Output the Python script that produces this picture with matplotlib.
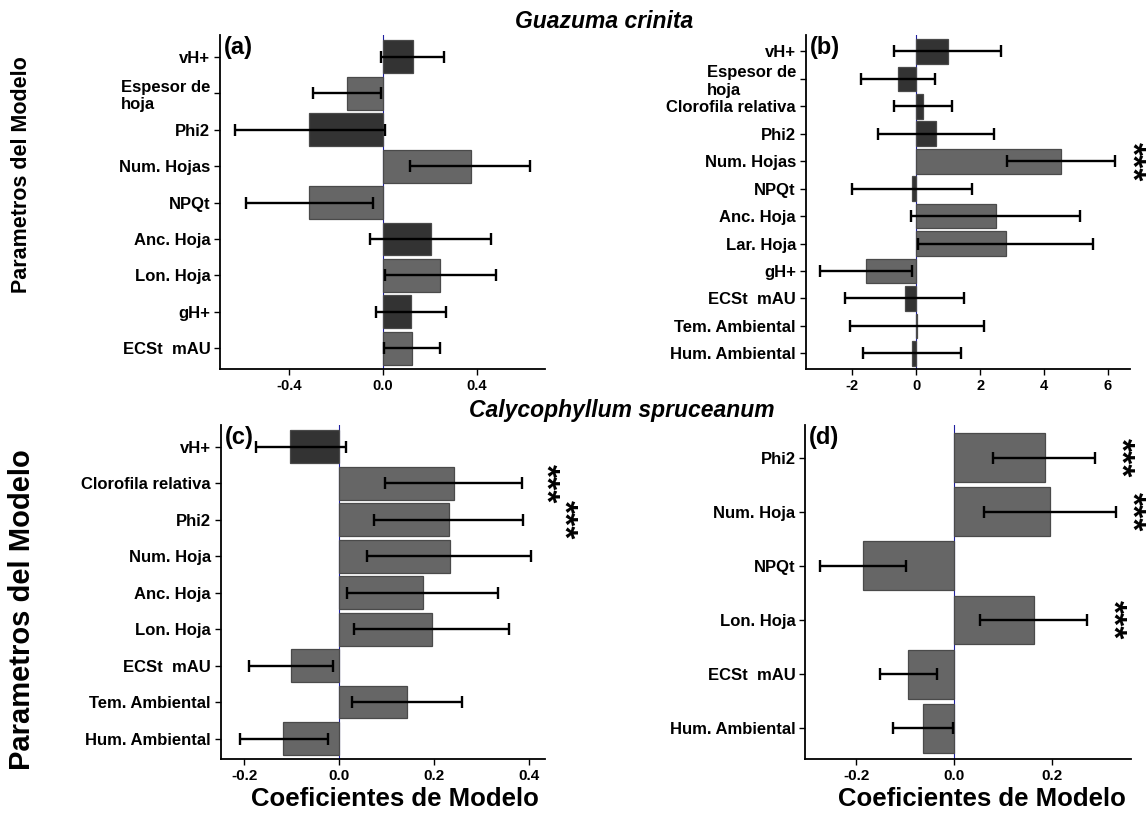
import matplotlib
matplotlib.use("Agg")
import matplotlib.pyplot as plt
from matplotlib.ticker import FormatStrFormatter

plt.rcParams["font.family"] = ["Liberation Sans", "DejaVu Sans"]
plt.rcParams["axes.unicode_minus"] = False

# (a) Guazuma crinita - modelo 1
labels_a = ["vH+", "Espesor de\nhoja", "Phi2", "Num. Hojas", "NPQt",
            "Anc. Hoja", "Lon. Hoja", "gH+", "ECSt  mAU"]
coef_a = [0.126, -0.155, -0.315, 0.373, -0.316, 0.203, 0.243, 0.119, 0.123]
lo_a = [-0.008, -0.30, -0.63, 0.115, -0.584, -0.055, 0.01, -0.03, 0.004]
hi_a = [0.26, -0.01, 0.01, 0.628, -0.044, 0.458, 0.48, 0.267, 0.243]
grp_a = [1, 0, 1, 0, 0, 1, 0, 1, 0]
sig_a = []

# (b) Guazuma crinita - modelo 2
labels_b = ["vH+", "Espesor de\nhoja", "Clorofila relativa", "Phi2", "Num. Hojas",
            "NPQt", "Anc. Hoja", "Lar. Hoja", "gH+", "ECSt  mAU",
            "Tem. Ambiental", "Hum. Ambiental"]
coef_b = [0.99, -0.58, 0.20, 0.62, 4.53, -0.14, 2.49, 2.80, -1.58, -0.35, 0.02, -0.12]
lo_b = [-0.70, -1.72, -0.70, -1.19, 2.84, -2.02, -0.15, 0.06, -3.0, -2.22, -2.08, -1.66]
hi_b = [2.66, 0.58, 1.11, 2.45, 6.22, 1.75, 5.11, 5.54, -0.14, 1.49, 2.12, 1.40]
grp_b = [1, 1, 1, 1, 0, 1, 0, 0, 0, 1, 0, 1]
sig_b = ["Num. Hojas"]

# (c) Calycophyllum spruceanum - modelo 1
labels_c = ["vH+", "Clorofila relativa", "Phi2", "Num. Hoja", "Anc. Hoja",
            "Lon. Hoja", "ECSt  mAU", "Tem. Ambiental", "Hum. Ambiental"]
coef_c = [-0.104, 0.242, 0.230, 0.232, 0.176, 0.195, -0.101, 0.142, -0.118]
lo_c = [-0.175, 0.096, 0.073, 0.059, 0.017, 0.031, -0.19, 0.027, -0.209]
hi_c = [0.014, 0.384, 0.386, 0.403, 0.335, 0.358, -0.013, 0.258, -0.023]
grp_c = [1, 0, 0, 0, 0, 0, 0, 0, 0]
sig_c = ["Clorofila relativa", "Phi2"]

# (d) Calycophyllum spruceanum - modelo 2
labels_d = ["Phi2", "Num. Hoja", "NPQt", "Lon. Hoja", "ECSt  mAU", "Hum. Ambiental"]
coef_d = [0.185, 0.196, -0.187, 0.163, -0.095, -0.064]
lo_d = [0.079, 0.061, -0.275, 0.053, -0.152, -0.125]
hi_d = [0.288, 0.33, -0.098, 0.27, -0.036, -0.003]
grp_d = [0, 0, 0, 0, 0, 0]
sig_d = ["Phi2", "Num. Hoja", "Lon. Hoja"]

W, H = 1148, 814


def px_box(left, top, right, bottom):
    return [left / W, 1 - bottom / H, (right - left) / W, (bottom - top) / H]


def panel(ax, labels, coef, lo, hi, grp, sig, xlim, ticks, fmt, tag,
          tick_fs, star_shift):
    n = len(labels)
    y = [n - 1 - i for i in range(n)]
    colors = ["#333333" if g else "#666666" for g in grp]
    ax.axvline(0, color="#2020a0", lw=0.8, zorder=0)
    ax.barh(y, coef, height=0.9, color=colors, edgecolor="#4a4a4a",
            linewidth=0.9, zorder=2)
    for yi, c, l, h in zip(y, coef, lo, hi):
        ax.errorbar(c, yi, xerr=[[c - l], [h - c]], fmt="none", ecolor="black",
                    elinewidth=1.7, capsize=4.5, capthick=1.7, zorder=3)
    span = xlim[1] - xlim[0]
    for k, lab in enumerate(sig):
        i = labels.index(lab)
        ax.text(hi[i] + star_shift[k] * span, n - 1 - i, "***", rotation=270,
                ha="center", va="center", fontsize=24, fontweight="bold",
                clip_on=False)
    ax.set_xlim(*xlim)
    ax.set_ylim(-0.57, n - 0.4)
    ax.set_yticks(y)
    ax.set_yticklabels(labels, fontsize=12, fontweight="bold",
                       multialignment="left")
    ax.set_xticks(ticks)
    ax.xaxis.set_major_formatter(FormatStrFormatter(fmt))
    for t in ax.get_xticklabels():
        t.set_fontweight("bold")
        t.set_fontsize(tick_fs)
    ax.tick_params(length=4, width=1, colors="black", pad=3)
    for s in ["top", "right"]:
        ax.spines[s].set_visible(False)
    for s in ["left", "bottom"]:
        ax.spines[s].set_linewidth(1.3)
    ax.text(0.012, 0.998, tag, transform=ax.transAxes, ha="left", va="top",
            fontsize=17, fontweight="bold")


fig = plt.figure(figsize=(W / 100, H / 100), dpi=100)
ax_a = fig.add_axes(px_box(220, 35, 545, 369))
ax_b = fig.add_axes(px_box(805.6, 35, 1130, 369))
ax_c = fig.add_axes(px_box(220.7, 425, 545, 759.3))
ax_d = fig.add_axes(px_box(805.3, 425, 1130.7, 759.3))

panel(ax_a, labels_a, coef_a, lo_a, hi_a, grp_a, sig_a, (-0.694, 0.69),
      [-0.4, 0.0, 0.4], "%.1f", "(a)", 10.5, [])
panel(ax_b, labels_b, coef_b, lo_b, hi_b, grp_b, sig_b, (-3.46, 6.69),
      [-2, 0, 2, 4, 6], "%d", "(b)", 10.5, [0.05])
panel(ax_c, labels_c, coef_c, lo_c, hi_c, grp_c, sig_c, (-0.25, 0.433),
      [-0.2, 0.0, 0.2, 0.4], "%.1f", "(c)", 11, [0.07, 0.125])
panel(ax_d, labels_d, coef_d, lo_d, hi_d, grp_d, sig_d, (-0.304, 0.36),
      [-0.2, 0.0, 0.2], "%.1f", "(d)", 11, [0.076, 0.044, 0.076])

fig.text(604 / W, 1 - 21 / H, "Guazuma crinita", ha="center", va="center",
         fontsize=16.5, fontweight="bold", style="italic")
fig.text(622 / W, 1 - 410 / H, "Calycophyllum spruceanum", ha="center",
         va="center", fontsize=16.5, fontweight="bold", style="italic")
fig.text(22 / W, 1 - 175 / H, "Parametros del Modelo", rotation=90,
         ha="center", va="center", fontsize=15.5, fontweight="bold")
fig.text(22 / W, 1 - 610 / H, "Parametros del Modelo", rotation=90,
         ha="center", va="center", fontsize=21, fontweight="bold")
fig.text(395 / W, 1 - 799 / H, "Coeficientes de Modelo", ha="center",
         va="center", fontsize=18.5, fontweight="bold")
fig.text(982 / W, 1 - 799 / H, "Coeficientes de Modelo", ha="center",
         va="center", fontsize=18.5, fontweight="bold")

fig.savefig("out.png", dpi=100, facecolor="white")
